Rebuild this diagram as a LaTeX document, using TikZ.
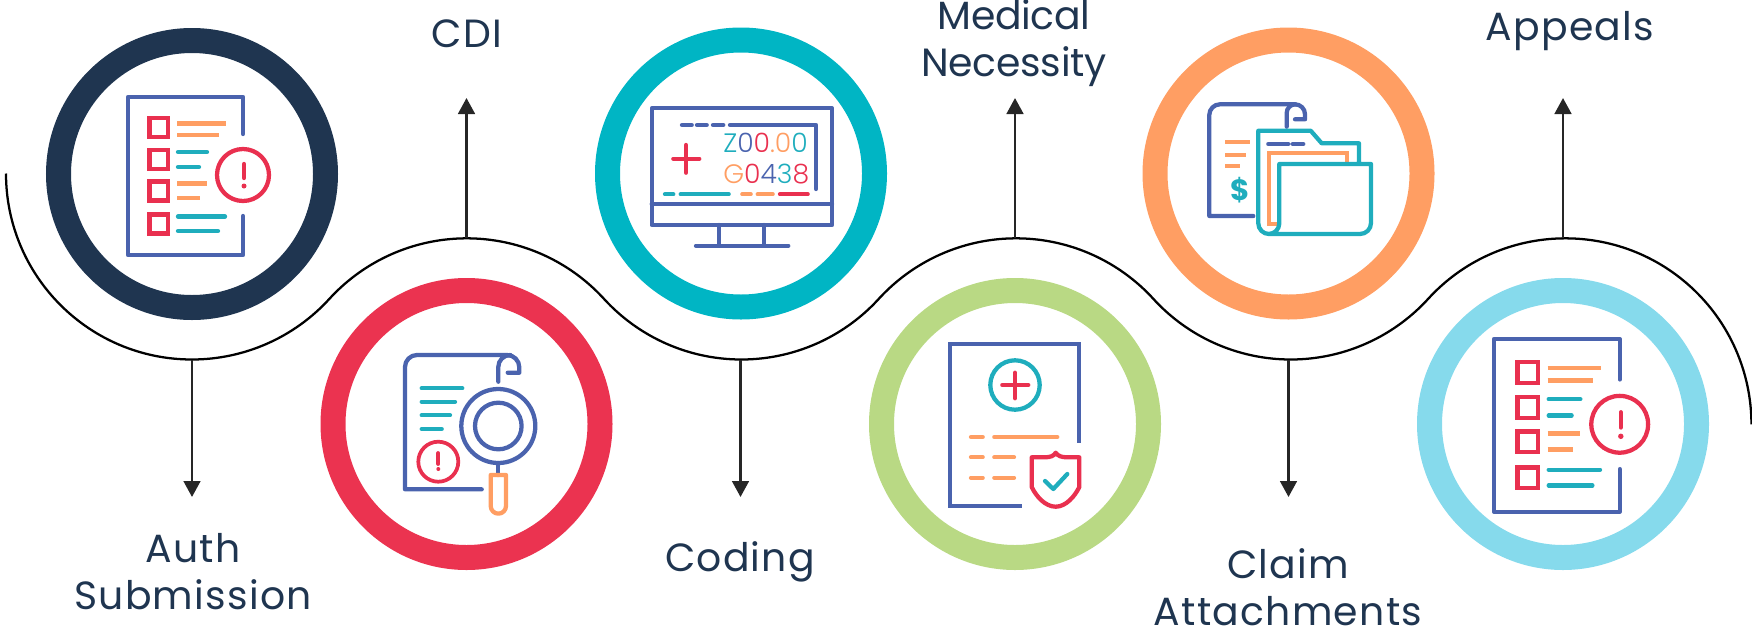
\documentclass[tikz,border=0pt]{standalone}
\usepackage{fontspec}
\setmainfont{Poppins}
\newfontfamily\labelfont[LetterSpace=3.2]{Poppins}
\newfontfamily\tightfont[LetterSpace=-0.8]{Poppins}
\newfontfamily\codefont[UprightFont={* Light}]{Poppins}
\usetikzlibrary{arrows.meta}
\definecolor{navy}{HTML}{1F3550}
\definecolor{rosso}{HTML}{EB3350}
\definecolor{cyanring}{HTML}{00B5C4}
\definecolor{limering}{HTML}{B9D984}
\definecolor{orangering}{HTML}{FF9E63}
\definecolor{skyring}{HTML}{86DAEC}
\definecolor{iblue}{HTML}{4A63AE}
\definecolor{iteal}{HTML}{1FADBD}
\definecolor{iorange}{HTML}{FF9E63}
\definecolor{ired}{HTML}{E9304F}
\tikzset{
  ring/.style={circle,draw=#1,line width=18.75pt,minimum size=200.25pt,inner sep=0pt},
  wave/.style={black,line width=1.7pt},
  flow/.style={black!85,line width=2pt,-{Triangle[width=12.5pt,length=12pt]}},
  label/.style={font=\labelfont\fontsize{29.5pt}{35pt}\selectfont,text=navy,align=center,inner sep=0pt,anchor=base},
  ib/.style={iblue,line width=3.2pt,line cap=round,line join=round},
  it/.style={iteal,line width=3.2pt,line cap=round,line join=round},
  io/.style={iorange,line width=3.2pt,line cap=round,line join=round},
  ir/.style={ired,line width=3.2pt,line cap=round,line join=round},
  thinr/.style={ired,line width=2.8pt,line cap=round,line join=round},
  icode/.style={font=\codefont\fontsize{20pt}{22pt}\selectfont,inner sep=0pt,anchor=base west}
}
\newcommand{\checklistIcon}{%
  \draw[ib] (243,134) -- (243,97) -- (128,97) -- (128,255) -- (243,255) -- (243,216);
  \foreach \yy in {127.5,159.5,191,224}{\draw[ir,line cap=butt,line join=miter] (149.5,\yy-9.5) rectangle (168,\yy+9.5);}
  \draw[io,line cap=butt] (177,123.5) -- (226,123.5) (177,135) -- (219,135);
  \draw[it] (178,152) -- (207,152) (178,167) -- (199,167);
  \draw[io,line cap=butt] (177,183.5) -- (207,183.5) (177,198) -- (200,198);
  \draw[it] (178,216.5) -- (225,216.5) (178,231) -- (218,231);
  \draw[ir] (243,175) circle[radius=26];
  \draw[ir] (244,164) -- (244,178);
  \fill[ired] (244,186) circle[radius=2.5];
}
\begin{document}
\begin{tikzpicture}[x=0.75pt,y=0.75pt,yscale=-1]
\useasboundingbox (0,0) rectangle (1752,632);
% rings
\node[ring=navy] (r1) at (192,174) {};
\node[ring=rosso] (r2) at (466.5,424) {};
\node[ring=cyanring] (r3) at (741,173.5) {};
\node[ring=limering] (r4) at (1015,424) {};
\node[ring=orangering] (r5) at (1288.5,173.5) {};
\node[ring=skyring] (r6) at (1563,424) {};
% wave
\draw[wave] (6,173.5)
  arc[start angle=180,end angle=42.4,radius=186]
  arc[start angle=222.4,end angle=317.6,radius=186]
  arc[start angle=137.6,end angle=42.4,radius=186]
  arc[start angle=222.4,end angle=317.6,radius=186]
  arc[start angle=137.6,end angle=42.4,radius=186]
  arc[start angle=222.4,end angle=360,radius=186];
% anchors on wave and arrow tips
\coordinate (w1) at (192,360); \coordinate (t1) at (192,497);
\coordinate (w2) at (466.5,238); \coordinate (t2) at (466.5,98);
\coordinate (w3) at (740.5,360); \coordinate (t3) at (740.5,497);
\coordinate (w4) at (1015,238); \coordinate (t4) at (1015,98);
\coordinate (w5) at (1288.5,360); \coordinate (t5) at (1288.5,497);
\coordinate (w6) at (1563,238); \coordinate (t6) at (1563,98);
\foreach \i in {1,...,6}{\draw[flow] (w\i) -- (t\i);}
% labels (baseline of the last line)
\node[label] (l1) at (193,609) {Auth\\Submission};
\node[label] (l2) at (467,47) {CDI};
\node[label] (l3) at (740,571) {Coding};
\node[label,font=\tightfont\fontsize{29.5pt}{35pt}\selectfont] (l4) at (1014,76.5) {Medical\\Necessity};
\node[label] (l5) at (1288,625.5) {Claim\\Attachments};
\node[label] (l6) at (1570,40) {Appeals};
% icon 1
\checklistIcon
% icon 6
\begin{scope}[shift={(1354.1,233)},scale=1.093]
\checklistIcon
\end{scope}
% icon 2
\draw[ib] (481.7,489.3) -- (405,489.3) -- (405,367) arc[start angle=180,end angle=270,radius=12] -- (507,355) arc[start angle=270,end angle=360,radius=12.3] -- (519.3,372.7) -- (507.7,372.7);
\draw[ib] (498.3,381.7) -- (498.3,367) arc[start angle=180,end angle=270,radius=12];
\draw[it] (421.7,388.3) -- (462.3,388.3) (421.7,401.7) -- (455,401.7) (421.7,415.3) -- (450,415.3) (421.7,429) -- (441.7,429);
\draw[thinr] (438.3,461.7) circle[radius=20];
\draw[thinr] (438.3,453) -- (438.3,464);
\fill[ired] (438.3,469) circle[radius=2];
\draw[ib] (498.3,426) circle[radius=37];
\draw[ib] (498.3,426) circle[radius=23.3];
\draw[ib] (498.3,463) -- (498.3,475);
\draw[io] (490.7,475) -- (506,475) -- (506,506) arc[start angle=0,end angle=180,radius=7.65] -- cycle;
% icon 3
\draw[ib] (696,245.7) -- (788.3,245.7);
\draw[ib] (719.3,225) -- (719.3,245.7) (764.3,225) -- (764.3,245.7);
\draw[ib] (651.7,108.3) rectangle (832,225);
\draw[ib] (651.7,204.3) -- (832,204.3);
\draw[ib] (682,125) -- (691.7,125) (697,125) -- (706.7,125) (713,125) -- (723.3,125) (730,125) -- (816,125) -- (816,189);
\draw[ir] (673.3,158.7) -- (699.3,158.7) (686,145) -- (686,172.7);
\node[icode] (z) at (723,152.5) {\textcolor{iteal}{Z}\textcolor{iblue}{0}\textcolor{ired}{0}\textcolor{iorange}{.0}\textcolor{iteal}{0}};
\node[icode] (g) at (723,183.5) {\textcolor{iorange}{G}\textcolor{ired}{0}\textcolor{iblue}{4}\textcolor{iteal}{3}\textcolor{ired}{8}};
\draw[it] (665,194.3) -- (673.3,194.3) (680.7,194.3) -- (728.7,194.3);
\draw[io] (742.3,194.3) -- (750.7,194.3) (757.7,194.3) -- (772.7,194.3);
\draw[ir] (780,194.3) -- (807.7,194.3);
% icon 4
\draw[ib,line cap=butt,line join=miter] (1079.3,442.7) -- (1079.3,344.3) -- (950,344.3) -- (950,506) -- (1021.7,506);
\draw[it] (1015,385) circle[radius=24.7];
\draw[ir] (1002.3,385) -- (1028.3,385) (1015,372.7) -- (1015,398.3);
\draw[io] (971,437) -- (982.7,437) (994.3,437) -- (1057.3,437) (971,457.3) -- (982.7,457.3) (994.3,457.3) -- (1014,457.3) (971,477.7) -- (982.7,477.7) (994.3,477.7) -- (1014,477.7);
\draw[ir] (1031.7,457.3) -- (1045,457.3) .. controls (1050,457.3) and (1054,456) .. (1055.7,452.7) .. controls (1057.5,456) and (1062,457.3) .. (1067,457.3) -- (1079.3,457.3) -- (1079.3,487) .. controls (1075,496) and (1066,506.7) .. (1055.7,506.7) .. controls (1045,506.7) and (1036,496) .. (1031.7,487) -- cycle;
\draw[it] (1045,481) -- (1053.3,489) -- (1067.3,474);
% icon 5
\draw[ib] (1253.3,216) -- (1209.3,216) -- (1209.3,115) arc[start angle=180,end angle=270,radius=10.7] -- (1295,104.3) arc[start angle=270,end angle=360,radius=10] -- (1305,119.3) -- (1295,119.3);
\draw[ib] (1286.7,126.7) -- (1286.7,113) arc[start angle=180,end angle=270,radius=8.7];
\draw[io,line cap=butt] (1225,142) -- (1250,142) (1225,155) -- (1245.7,155) (1225,165.7) -- (1240,165.7);
\node[font=\bfseries\fontsize{22pt}{26pt}\selectfont,text=iteal,inner sep=0pt] (dollar) at (1240,190) {\$};
\draw[io,line cap=butt,line join=miter] (1276.7,224.3) -- (1269.3,224.3) -- (1269.3,152.7) -- (1347.3,152.7) -- (1347.3,164);
\draw[ib] (1268.3,144) -- (1288.3,144) (1292.7,144) -- (1303.3,144);
\draw[it] (1359,164) -- (1359,143.3) -- (1321.7,143.3) -- (1310.7,130.7) -- (1258.3,130.7) -- (1258.3,223.3) arc[start angle=180,end angle=90,radius=10.7] -- (1360,234) arc[start angle=90,end angle=0,radius=11] -- (1371,164) -- (1279.3,164) -- (1279.3,223.3) arc[start angle=0,end angle=90,radius=10.7];
\end{tikzpicture}
\end{document}
